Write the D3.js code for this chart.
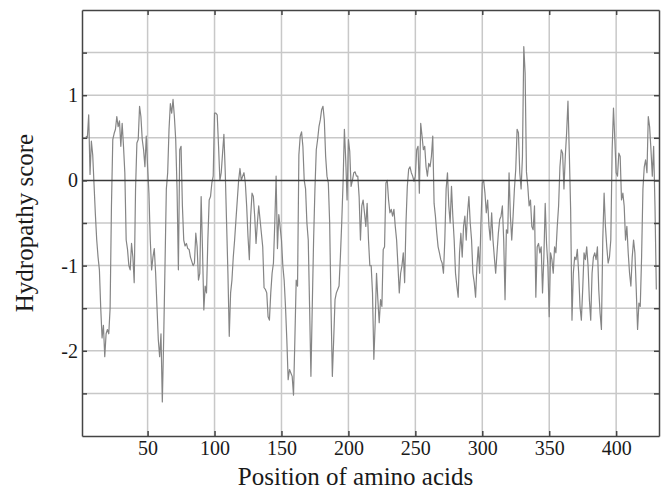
<!DOCTYPE html>
<html>
<head>
<meta charset="utf-8">
<script src="https://d3js.org/d3.v7.min.js"></script>
<style>
body { margin:0; background:#fff; }
text { font-family:"Liberation Serif","Times New Roman",serif; fill:#1a1a1a; }
</style>
</head>
<body>
<svg id="hydro-Plot"></svg>
<script>
// position of the first scored residue (window centre)
var firstPosition = 4;

// hydropathy score per residue
var scores = [
    // 4-13
    0.52, 0.50, 0.77, 0.07, 0.46, 0.30, -0.05, -0.40, -0.70, -0.90,
    // 14-23
    -1.05, -1.50, -1.85, -1.70, -2.07, -1.80, -1.75, -1.80, -1.50, -0.30,
    // 24-33
    0.48, 0.55, 0.60, 0.75, 0.63, 0.70, 0.40, 0.67, 0.40, 0.09,
    // 34-43
    -0.70, -0.81, -1.00, -1.05, -0.74, -0.90, -1.20, -0.10, 0.44, 0.48,
    // 44-53
    0.87, 0.75, 0.48, 0.36, 0.16, 0.52, 0.16, -0.15, -0.70, -1.05,
    // 54-63
    -0.90, -0.80, -1.09, -1.48, -1.87, -2.07, -1.80, -2.60, -1.87, -1.00,
    // 64-73
    -0.10, 0.09, 0.60, 0.90, 0.79, 0.95, 0.75, 0.48, -0.10, -1.05,
    // 74-83
    0.36, 0.40, -0.30, -0.70, -0.77, -0.74, -0.80, -0.81, -0.90, -0.95,
    // 84-93
    -1.00, -0.97, -0.62, -0.78, -1.17, -1.09, -0.19, -0.80, -1.52, -1.24,
    // 94-103
    -1.32, -0.70, -0.23, -0.19, -0.03, 0.05, 0.79, 0.79, 0.77, 0.40,
    // 104-113
    0.00, 0.09, 0.32, 0.54, 0.10, -0.50, -1.09, -1.83, -1.32, -1.17,
    // 114-123
    -0.90, -0.70, -0.46, -0.23, 0.00, 0.14, 0.00, 0.05, 0.09, -0.03,
    // 124-133
    -0.30, -0.66, -0.93, -0.42, -0.15, -0.19, -0.42, -0.74, -0.50, -0.30,
    // 134-143
    -0.46, -0.62, -0.78, -1.26, -1.28, -1.32, -1.60, -1.64, -1.32, -1.09,
    // 144-153
    -0.97, -0.50, 0.05, -0.80, -0.40, -0.55, -0.70, -1.00, -1.17, -1.48,
    // 154-163
    -1.87, -2.34, -2.22, -2.26, -2.30, -2.52, -1.87, -1.17, -1.24, 0.30,
    // 164-173
    0.52, 0.57, 0.40, 0.00, -0.10, -0.50, -0.70, -1.48, -2.30, -1.48,
    // 174-183
    -0.70, -0.10, 0.36, 0.48, 0.63, 0.71, 0.83, 0.87, 0.71, 0.28,
    // 184-193
    0.05, -0.03, -0.50, -1.48, -2.30, -1.87, -1.40, -1.32, -1.28, -1.24,
    // 194-203
    -0.90, -0.50, -0.03, 0.60, 0.24, -0.23, 0.48, 0.34, -0.07, 0.00,
    // 204-213
    0.09, 0.10, 0.05, 0.05, -0.19, -0.70, -0.30, -0.23, -0.38, -0.54,
    // 214-223
    -0.27, -0.70, -1.00, -1.00, -1.32, -2.10, -1.67, -1.09, -1.40, -1.67,
    // 224-233
    -1.40, -1.48, -0.81, -0.78, -0.03, 0.00, -0.23, -0.38, -0.34, -0.42,
    // 234-243
    -0.34, -0.54, -0.70, -1.00, -1.32, -1.09, -1.00, -0.85, -1.20, -0.50,
    // 244-253
    -0.07, 0.13, 0.16, 0.09, 0.05, -0.01, 0.05, 0.36, 0.40, -0.15,
    // 254-263
    0.67, 0.52, 0.36, 0.40, 0.16, 0.05, 0.20, 0.16, 0.28, 0.52,
    // 264-273
    -0.27, -0.42, -0.62, -0.78, -0.85, -0.93, -0.97, -1.09, -0.70, -0.10,
    // 274-283
    0.09, -0.30, -0.50, -0.07, -0.42, -0.70, -1.09, -1.24, -1.37, -0.85,
    // 284-293
    -0.62, -0.90, -0.54, -0.42, -0.70, -0.38, -0.19, -0.50, -0.70, -1.09,
    // 294-303
    -1.20, -1.37, -1.00, -0.78, -1.09, -0.50, -0.03, 0.00, -0.15, -0.38,
    // 304-313
    -0.23, -0.54, -0.70, -0.38, -0.70, -0.90, -1.09, -0.85, -0.62, -0.46,
    // 314-323
    -0.42, -0.30, -0.70, -1.40, -0.58, -0.62, 0.09, -0.42, -0.70, -0.42,
    // 324-333
    -0.10, 0.13, 0.60, 0.56, 0.09, -0.10, 0.28, 1.57, 1.26, 0.10,
    // 334-343
    -0.07, -0.30, -0.23, -0.54, -0.58, -0.30, -1.37, -0.78, -0.74, -0.85,
    // 344-353
    -0.78, -1.32, -0.90, -0.27, -0.74, -1.00, -1.60, -0.85, -0.93, -1.09,
    // 354-363
    -0.78, -0.85, -0.54, -0.30, 0.16, 0.36, 0.32, -0.10, 0.28, 0.56,
    // 364-373
    0.93, 0.32, -0.34, -1.64, -1.09, -0.90, -0.93, -0.81, -1.09, -1.48,
    // 374-383
    -1.64, -1.28, -0.85, -0.93, -0.78, -1.00, -1.40, -1.64, -1.09, -0.90,
    // 384-393
    -0.85, -0.93, -0.78, -1.28, -1.56, -1.75, -0.70, -0.15, -0.54, -0.78,
    // 394-403
    -0.97, -0.90, -0.70, 0.36, 0.85, 0.48, 0.09, 0.05, 0.32, 0.28,
    // 404-413
    -0.23, -0.15, -0.30, -0.70, -0.54, -0.85, -1.09, -1.24, -0.90, -0.70,
    // 414-423
    -0.85, -1.28, -1.75, -1.44, -1.48, -0.90, -0.10, 0.16, 0.24, 0.09,
    // 424-430
    0.75, 0.63, 0.36, 0.05, 0.40, -0.30, -1.28
];

var xTicks = [50, 100, 150, 200, 250, 300, 350, 400];
var yTicks = [1.5, 1, 0.5, 0, -0.5, -1, -1.5, -2, -2.5];
var yTickLabels = [1, 0, -1, -2];
var xDomain = [1, 432];
var yDomain = [-3, 2];

var xTitle = "Position of amino acids";
var yTitle = "Hydropathy score";

//gridlines
var createGrid = function(g, graph, xScale, yScale)
{
    var grid = g.append("g").classed("grid", true);
    grid.selectAll("line.vgrid")
        .data(xTicks)
        .enter()
        .append("line")
        .attr("class", "vgrid")
        .attr("x1", function(d){return xScale(d)})
        .attr("x2", function(d){return xScale(d)})
        .attr("y1", 0)
        .attr("y2", graph.height)
        .attr("stroke", "#c8c8c8")
        .attr("stroke-width", 1.5);
    grid.selectAll("line.hgrid")
        .data(yTicks.filter(function(d){return d != 0}))
        .enter()
        .append("line")
        .attr("class", "hgrid")
        .attr("x1", 0)
        .attr("x2", graph.width)
        .attr("y1", function(d){return yScale(d)})
        .attr("y2", function(d){return yScale(d)})
        .attr("stroke", "#c8c8c8")
        .attr("stroke-width", 1.5);
};

//create the axes (ticks point inwards on all four sides)
var createAxes = function(g, graph, xScale, yScale)
{
    var tickFmt = function(d){ return yTickLabels.indexOf(d) >= 0 ? String(d) : ""; };

    var xAxis = d3.axisBottom(xScale).tickValues(xTicks).tickSizeInner(-5).tickSizeOuter(0).tickPadding(5);
    var yAxis = d3.axisLeft(yScale).tickValues(yTicks).tickFormat(tickFmt).tickSizeInner(-5).tickSizeOuter(0).tickPadding(4);
    var topAxis = d3.axisTop(xScale).tickValues(xTicks).tickFormat("").tickSizeInner(-5).tickSizeOuter(0);
    var rightAxis = d3.axisRight(yScale).tickValues(yTicks).tickFormat("").tickSizeInner(-5).tickSizeOuter(0);

    var axes = g.append("g").attr("class", "axes");
    axes.append("g").attr("transform", "translate(0," + graph.height + ")").call(xAxis);
    axes.append("g").call(yAxis);
    axes.append("g").call(topAxis);
    axes.append("g").attr("transform", "translate(" + graph.width + ",0)").call(rightAxis);

    axes.selectAll(".domain").attr("stroke", "#444").attr("stroke-width", 1.5);
    axes.selectAll(".tick line").attr("stroke", "#444").attr("stroke-width", 1.5);
    axes.selectAll(".tick text")
        .attr("font-family", null)
        .style("font-size", "20px")
        .attr("fill", "#1a1a1a");
};

//Create the Labels
var createLabels = function(svg, margins, graph)
{
    var labels = svg.append("g").classed("labels", true);
    labels.append("text")
        .text(xTitle)
        .attr("text-anchor", "middle")
        .style("font-size", "25px")
        .attr("x", margins.left + graph.width/2 - 15)
        .attr("y", margins.top + graph.height + 49);
    labels.append("g")
        .attr("transform", "translate(33," + (margins.top + graph.height/2) + ")")
        .append("text")
        .text(yTitle)
        .attr("text-anchor", "middle")
        .style("font-size", "25px")
        .attr("transform", "rotate(-90)");
};

//draw the Graph
var drawgraph = function()
{
    var screen = {width:665, height:489};
    var margins = {top:10, bottom:53, left:82, right:6};
    var graph = {width:screen.width-margins.left-margins.right, height:screen.height-margins.top-margins.bottom};

    var svg = d3.select("#hydro-Plot")
        .attr("width", screen.width)
        .attr("height", screen.height);
    var g = svg.append("g")
        .classed("graph", true)
        .attr("transform", "translate(" + margins.left + "," + margins.top + ")");

    var xScale = d3.scaleLinear().domain(xDomain).range([0, graph.width]);
    var yScale = d3.scaleLinear().domain(yDomain).range([graph.height, 0]);

    createGrid(g, graph, xScale, yScale);

    var linegen = d3.line()
        .x(function(d, i){return xScale(firstPosition + i)})
        .y(function(d){return yScale(d)});

    g.append("path")
        .datum(scores)
        .attr("class", "line")
        .attr("d", linegen)
        .attr("fill", "none")
        .attr("stroke", "#858585")
        .attr("stroke-width", 1.2)
        .attr("stroke-linejoin", "round");

    //zero line
    g.append("line")
        .attr("x1", 0)
        .attr("x2", graph.width)
        .attr("y1", yScale(0))
        .attr("y2", yScale(0))
        .attr("stroke", "#3a3a3a")
        .attr("stroke-width", 1.5);

    createAxes(g, graph, xScale, yScale);
    createLabels(svg, margins, graph);
};

drawgraph();
</script>
</body>
</html>
